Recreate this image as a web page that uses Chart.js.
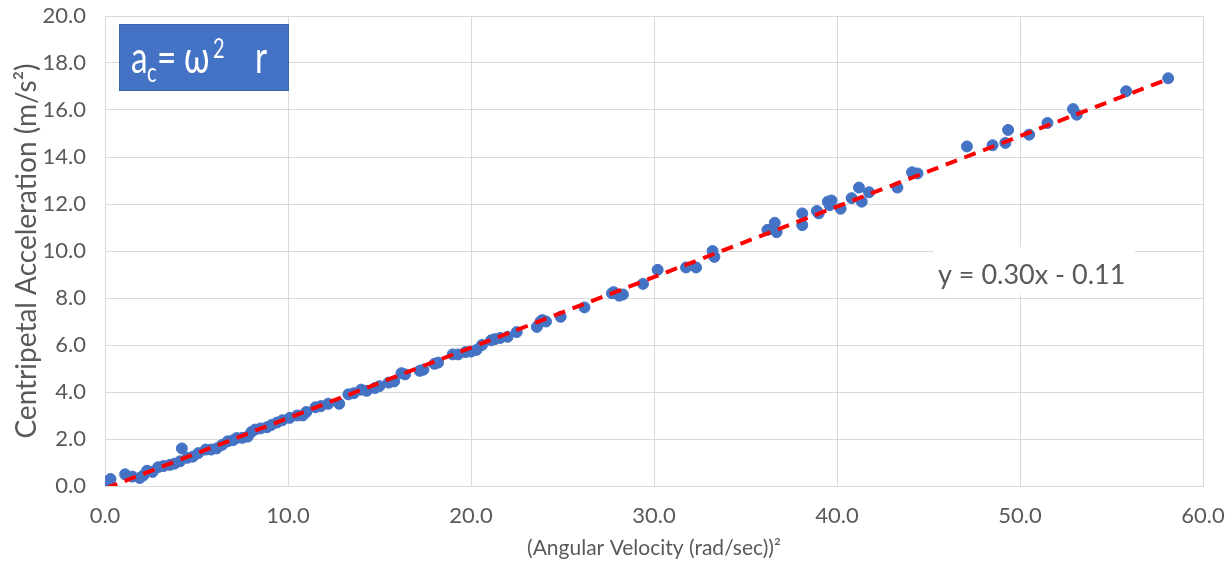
<!DOCTYPE html>
<html>
<head>
<meta charset="utf-8">
<title>Centripetal Acceleration</title>
<script src="https://cdn.jsdelivr.net/npm/chart.js@4.4.0/dist/chart.umd.min.js"></script>
<style>
    html, body { margin: 0; padding: 0; background: #ffffff; }
    #wrap { width: 1231px; height: 569px; }
</style>
</head>
<body>
<div id="wrap"><canvas id="accelChart" width="1231" height="569"></canvas></div>
<script>
// (Angular velocity)^2 in (rad/sec)^2 for each run
const omegaSquared = [
    0.05, 0.2, 0.3, 1.1, 1.5, 1.9, 2.1, 2.3, 2.6, 2.9, 3.2, 3.55, 3.8, 4.1, 4.2, 4.5, 4.8, 5.1, 5.5, 5.8,
    6.1, 6.4, 6.7, 7.0, 7.2, 7.5, 7.8, 8.0, 8.2, 8.5, 8.85, 9.1, 9.4, 9.7, 10.1, 10.5, 10.8, 11.0,
    11.5, 11.8, 12.2, 12.8, 13.3, 13.6, 14.0, 14.3, 14.75, 15.0, 15.5, 15.8, 16.2, 16.4, 17.2, 17.4,
    18.0, 18.2, 19.0, 19.3, 19.7, 20.0, 20.3, 20.6, 21.1, 21.3, 21.6, 22.0, 22.5, 23.6, 23.8, 23.9,
    24.1, 24.9, 26.2,
    27.7, 27.8, 28.1, 28.3, 29.4, 30.2, 31.75, 32.3, 33.2, 33.3, 36.2, 36.6, 36.7, 38.1, 38.1, 38.9,
    39.0, 39.5, 39.6, 39.7, 40.2, 40.8, 41.2, 41.35, 41.75, 43.3, 44.1, 44.4, 47.1, 48.5, 49.2, 49.35,
    50.5, 51.5, 52.9, 53.1, 55.8, 58.1
];

// Measured centripetal acceleration in m/s^2
const acceleration = [
    0.05, 0.15, 0.3, 0.5, 0.4, 0.34, 0.45, 0.65, 0.6, 0.8, 0.85, 0.9, 0.95, 1.05, 1.6, 1.2, 1.25, 1.4, 1.55, 1.55,
    1.6, 1.75, 1.9, 1.95, 2.04, 2.05, 2.1, 2.3, 2.4, 2.45, 2.5, 2.6, 2.7, 2.8, 2.9, 3.0, 3.0, 3.15,
    3.35, 3.4, 3.5, 3.5, 3.9, 3.95, 4.1, 4.05, 4.17, 4.25, 4.4, 4.45, 4.8, 4.75, 4.9, 4.95,
    5.2, 5.25, 5.6, 5.6, 5.7, 5.72, 5.79, 6.0, 6.2, 6.25, 6.3, 6.35, 6.55, 6.77, 7.0, 7.06,
    7.0, 7.2, 7.6,
    8.2, 8.25, 8.1, 8.15, 8.6, 9.2, 9.3, 9.3, 10.0, 9.75, 10.9, 11.2, 10.8, 11.6, 11.1, 11.7,
    11.6, 12.1, 11.95, 12.15, 11.8, 12.25, 12.7, 12.1, 12.5, 12.7, 13.35, 13.3, 14.45, 14.5, 14.6, 15.15,
    14.95, 15.45, 16.04, 15.8, 16.8, 17.35
];

// Linear trendline y = 0.30x - 0.11
const fitSlope = 0.30;
const fitIntercept = -0.11;

const xTicks = [0, 10, 20, 30, 40, 50, 60];
const yTicks = [0, 2, 4, 6, 8, 10, 12, 14, 16, 18, 20];

const gridColor = "#d9d9d9";
const textColor = "#595959";
const markerBlue = "#4472c4";

document.addEventListener("DOMContentLoaded", function () {
    const points = omegaSquared.map((x, i) => ({ x: x, y: acceleration[i] }));

    const xMin = Math.min(...omegaSquared);
    const xMax = Math.max(...omegaSquared);
    const fitLine = [xMin, xMax].map(x => ({ x: x, y: fitSlope * x + fitIntercept }));

    // draws one piece of the formula, squeezed a little horizontally
    function formulaPiece(ctx, text, x, y, size) {
        ctx.save();
        ctx.translate(x, y);
        ctx.scale(0.74, 1);
        ctx.font = size + "px Lato";
        ctx.fillText(text, 0, 0);
        ctx.restore();
    }

    // Formula box in the top-left and the trendline equation
    const overlayPlugin = {
        id: "overlay",
        afterDraw(chart) {
            const ctx = chart.ctx;
            const area = chart.chartArea;

            // a_c = w^2 r box
            const bx = area.left + 14;
            const by = area.top + 8;
            ctx.save();
            ctx.fillStyle = markerBlue;
            ctx.strokeStyle = "#3a64ad";
            ctx.lineWidth = 1;
            ctx.fillRect(bx, by, 170, 67);
            ctx.strokeRect(bx + 0.5, by + 0.5, 169, 66);

            ctx.fillStyle = "#ffffff";
            ctx.textBaseline = "alphabetic";
            formulaPiece(ctx, "a", bx + 12, by + 49, 45);
            formulaPiece(ctx, "c", bx + 28, by + 58, 27);
            formulaPiece(ctx, "=", bx + 38, by + 49, 45);
            formulaPiece(ctx, "\u03c9", bx + 65, by + 49, 45);
            formulaPiece(ctx, "2", bx + 94, by + 34, 27);
            formulaPiece(ctx, "r", bx + 136, by + 49, 45);
            ctx.restore();

            // trendline equation label
            const ex = area.left + 828;
            const ey = area.top + 231;
            ctx.save();
            ctx.fillStyle = "#ffffff";
            ctx.fillRect(ex, ey, 202, 48);
            ctx.fillStyle = textColor;
            ctx.font = "27px Lato";
            ctx.textBaseline = "alphabetic";
            ctx.fillText("y = 0.30x - 0.11", ex + 5, ey + 37);
            ctx.restore();
        }
    };

    const ctx = document.getElementById("accelChart").getContext("2d");

    new Chart(ctx, {
        type: "scatter",
        data: {
            datasets: [
                {
                    label: "Linear fit",
                    type: "line",
                    data: fitLine,
                    order: 0,
                    borderColor: "#ff0000",
                    borderWidth: 4,
                    borderDash: [12, 8],
                    pointRadius: 0,
                    fill: false,
                    tension: 0
                },
                {
                    label: "Measured",
                    data: points,
                    order: 1,
                    backgroundColor: markerBlue,
                    borderColor: markerBlue,
                    borderWidth: 1,
                    pointRadius: 5.5,
                    pointHoverRadius: 5.5
                }
            ]
        },
        options: {
            responsive: false,
            animation: false,
            events: [],
            layout: { padding: { top: 16, right: 28, bottom: 0, left: 0 } },
            plugins: {
                legend: { display: false },
                tooltip: { enabled: false }
            },
            scales: {
                x: {
                    type: "linear",
                    min: 0,
                    max: 60,
                    afterBuildTicks: scale => { scale.ticks = xTicks.map(v => ({ value: v })); },
                    afterFit: scale => { scale.height = 83; },
                    grid: { color: gridColor, lineWidth: 1, drawTicks: true, tickLength: 17, tickColor: "rgba(0,0,0,0)" },
                    border: { color: gridColor },
                    ticks: {
                        padding: 0,
                        color: textColor,
                        font: { family: "Lato", size: 22 },
                        callback: v => Number(v).toFixed(1)
                    },
                    title: {
                        display: true,
                        text: "(Angular Velocity (rad/sec))\u00b2",
                        color: textColor,
                        font: { family: "Lato", size: 21 },
                        padding: { top: 0, bottom: 8 }
                    }
                },
                y: {
                    type: "linear",
                    min: 0,
                    max: 20,
                    afterBuildTicks: scale => { scale.ticks = yTicks.map(v => ({ value: v })); },
                    afterFit: scale => { scale.width = 105; },
                    grid: { color: gridColor, lineWidth: 1, drawTicks: true, tickLength: 19, tickColor: "rgba(0,0,0,0)" },
                    border: { color: gridColor },
                    ticks: {
                        padding: 0,
                        color: textColor,
                        font: { family: "Lato", size: 22 },
                        callback: v => Number(v).toFixed(1)
                    },
                    title: {
                        display: true,
                        text: "Centripetal Acceleration (m/s\u00b2)",
                        color: textColor,
                        font: { family: "Lato", size: 28 },
                        padding: { top: 10, bottom: 0 }
                    }
                }
            }
        },
        plugins: [overlayPlugin]
    });
});
</script>
</body>
</html>
